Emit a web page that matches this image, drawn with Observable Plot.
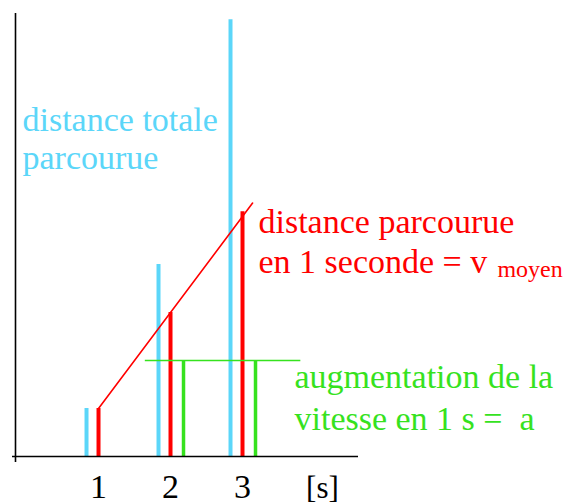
<!DOCTYPE html>
<html>
<head>
<meta charset="utf-8">
<script src="https://cdn.jsdelivr.net/npm/d3@7"></script>
<script src="https://cdn.jsdelivr.net/npm/@observablehq/plot@0.6"></script>
<style>
  html, body { margin: 0; padding: 0; background: #ffffff; }
</style>
</head>
<body>
<div id="chart"></div>
<script>
// Uniformly accelerated motion, a = 2 units/s², starting from rest
const seconds = [1, 2, 3];
const totalDistance = [1, 4, 9.1];        // distance totale parcourue
const distancePerSecond = [1, 3, 5.1];    // distance parcourue en 1 seconde
const gainSeconds = [2, 3];
const speedGain = [2, 2];                 // augmentation de la vitesse en 1 s
const tickLabels = ["1", "2", "3"];
const unitLabel = "[s]";
// average-speed trend through the tops of the per-second distances
const trendT = [1, 3.14];
const trendV = [1, 5.28];
// extent of the constant speed-gain level
const gainSpan = [1.65, 3.81];

const blue = "#5bd6f9";
const red = "#ff0000";
const green = "#36e21e";
const serif = "Liberation Serif";
const xDomain = [-0.153, 4.611];

const rows = (xs, vs) => xs.map((t, i) => ({t, v: vs[i]}));
const label = (text, x, y, fill, fontSize = 34) =>
  Plot.text([text], {x, y, text: d => d, textAnchor: "start", lineAnchor: "bottom",
    fontSize, fill, fontFamily: serif});

const chart = Plot.plot({
  width: 575,
  height: 504,
  marginLeft: 15,
  marginRight: 217,
  marginTop: 13,
  marginBottom: 48,
  x: {domain: xDomain, axis: null},
  y: {domain: [0, 9.23], axis: null},
  marks: [
    // bars
    Plot.ruleX(rows(seconds, totalDistance), {x: "t", y1: 0, y2: "v", dx: -12, stroke: blue, strokeWidth: 4}),
    Plot.ruleX(rows(seconds, distancePerSecond), {x: "t", y1: 0, y2: "v", stroke: red, strokeWidth: 4}),
    Plot.ruleX(rows(gainSeconds, speedGain), {x: "t", y1: 0, y2: "v", dx: 13, stroke: green, strokeWidth: 3.5}),
    // trend line and speed-gain level
    Plot.line(rows(trendT, trendV), {x: "t", y: "v", stroke: red, strokeWidth: 1.6}),
    Plot.ruleY([speedGain[0]], {x1: gainSpan[0], x2: gainSpan[1], stroke: green, strokeWidth: 1.6}),
    // axes
    Plot.ruleY([0], {stroke: "#000000", strokeWidth: 1.6, insetLeft: -3}),
    Plot.ruleX([xDomain[0]], {stroke: "#000000", strokeWidth: 1.6, insetBottom: -6}),
    // tick labels
    Plot.text(tickLabels, {x: seconds, text: d => d, frameAnchor: "bottom", dy: 41, lineAnchor: "bottom",
      fontSize: 34, fill: "#000000", fontFamily: serif}),
    Plot.text([unitLabel], {x: 4.11, text: d => d, frameAnchor: "bottom", dy: 41, lineAnchor: "bottom",
      fontSize: 31, fill: "#000000", fontFamily: serif}),
    // annotations
    label("distance totale", -0.056, 6.79, blue),
    label("parcourue", -0.056, 6.0, blue),
    label("distance parcourue", 3.222, 4.667, red),
    label("en 1 seconde = v", 3.222, 3.833, red),
    label("moyen", 6.54, 3.73, red, 24),
    label("augmentation de la", 3.722, 1.417, green),
    label("vitesse en 1 s =\u00a0 a", 3.722, 0.542, green)
  ]
});

// serif face on the root and on every text element
chart.setAttribute("font-family", serif);
chart.style.fontFamily = serif;
chart.style.background = "#ffffff";
chart.querySelectorAll("text").forEach(t => {
  t.setAttribute("font-family", serif);
  t.style.fontFamily = serif;
});

document.getElementById("chart").appendChild(chart);
</script>
</body>
</html>
